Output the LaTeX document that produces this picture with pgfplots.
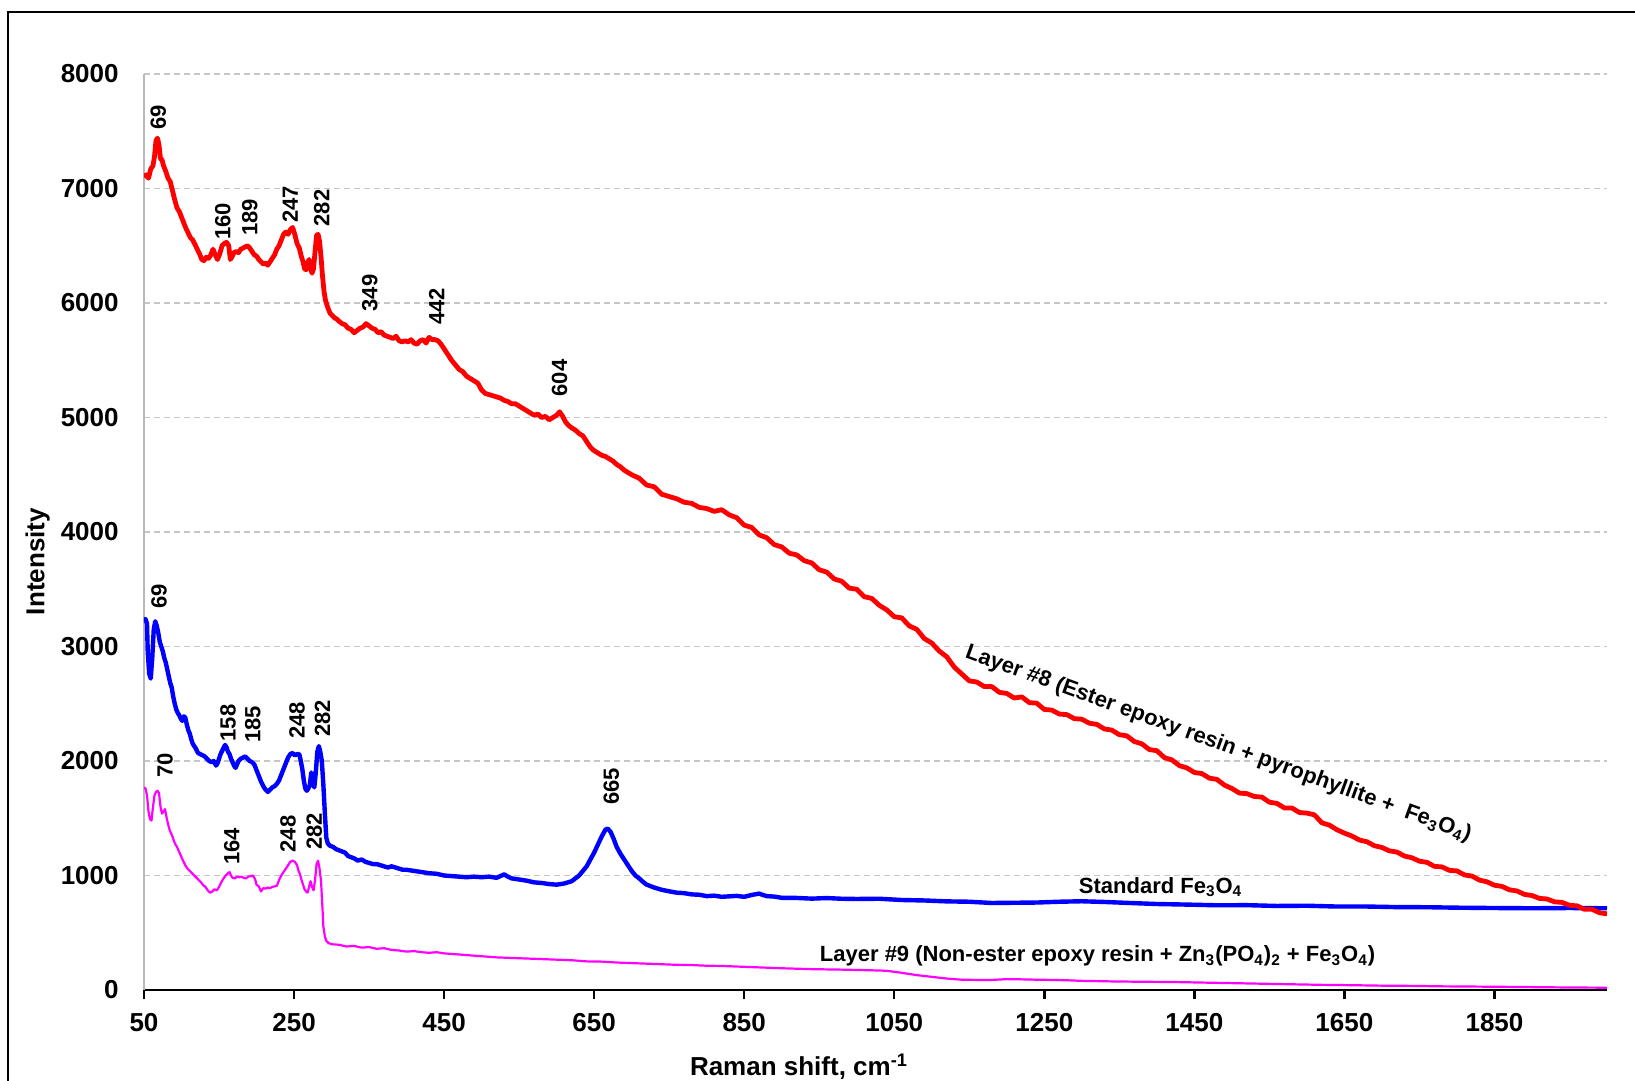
\documentclass[border=0pt]{standalone}
\usepackage{fontspec}
\setmainfont{Liberation Sans}
\usepackage{pgfplots}
\usepackage{pgfplotstable}
\pgfplotsset{compat=1.18}
\definecolor{specred}{RGB}{255,0,0}
\definecolor{specblue}{RGB}{0,0,255}
\definecolor{specmag}{RGB}{255,0,255}

% Layer #8 (red)
\pgfplotstableread{
x y
50 7100
53 7120
56 7090
59 7170
62 7200
64 7280
66 7420
68 7440
70 7380
72 7260
74 7250
76 7200
79 7150
82 7090
85 7060
88 6980
91 6900
94 6830
97 6800
100 6750
103 6700
106 6650
109 6610
112 6570
115 6550
118 6510
121 6470
124 6430
127 6380
130 6370
133 6400
136 6390
139 6420
142 6470
145 6420
148 6380
151 6430
154 6500
157 6520
160 6530
163 6500
165 6380
167 6400
170 6440
173 6450
176 6440
179 6470
182 6480
185 6490
188 6500
191 6480
194 6450
197 6420
200 6410
203 6380
206 6360
209 6340
212 6350
215 6330
218 6360
221 6390
224 6420
227 6470
230 6500
233 6550
236 6600
239 6620
242 6600
245 6640
248 6660
251 6600
254 6520
257 6480
260 6400
262 6360
264 6300
266 6290
268 6350
270 6380
272 6300
274 6260
276 6300
278 6450
280 6590
282 6600
284 6540
286 6400
288 6230
290 6100
292 6020
295 5960
298 5910
301 5890
304 5870
307 5860
310 5840
314 5820
318 5810
322 5780
326 5770
330 5740
334 5760
338 5780
342 5790
346 5820
350 5800
354 5780
358 5770
362 5740
366 5750
370 5720
374 5710
378 5700
382 5690
386 5710
390 5670
394 5660
398 5670
402 5660
406 5680
410 5650
414 5640
418 5670
422 5680
426 5650
430 5700
434 5680
438 5680
442 5670
446 5640
450 5600
455 5550
460 5500
465 5460
470 5420
475 5400
480 5360
485 5340
490 5320
495 5300
500 5240
505 5210
510 5200
515 5190
520 5180
525 5170
530 5150
535 5140
540 5120
545 5120
550 5100
555 5080
560 5060
565 5040
570 5020
575 5030
580 5000
585 5010
590 4980
595 5000
600 5020
604 5050
608 5010
612 4960
616 4930
620 4910
625 4890
630 4860
635 4840
640 4790
645 4740
650 4710
655 4690
660 4670
665 4660
670 4640
675 4620
680 4590
685 4570
690 4540
695 4520
700 4500
710 4470
720 4410
730 4395
740 4330
750 4310
760 4290
770 4260
780 4250
790 4215
800 4205
810 4180
820 4195
830 4150
840 4125
850 4060
860 4040
870 3975
880 3950
890 3890
900 3870
910 3815
920 3800
930 3750
940 3730
950 3670
960 3650
970 3590
980 3570
990 3510
1000 3500
1010 3435
1020 3420
1030 3360
1040 3320
1050 3260
1060 3250
1070 3180
1080 3150
1090 3070
1100 3030
1110 2960
1120 2910
1130 2820
1140 2760
1150 2700
1160 2690
1170 2650
1180 2650
1190 2600
1200 2590
1210 2550
1220 2560
1230 2510
1240 2505
1250 2450
1260 2445
1270 2410
1280 2405
1290 2370
1300 2365
1310 2330
1320 2320
1330 2280
1340 2270
1350 2230
1360 2220
1370 2170
1380 2150
1390 2100
1400 2090
1410 2030
1420 2010
1430 1960
1440 1940
1450 1900
1460 1890
1470 1850
1480 1840
1490 1790
1500 1760
1510 1720
1520 1715
1530 1690
1540 1685
1550 1640
1560 1630
1570 1590
1580 1590
1590 1550
1600 1545
1610 1530
1620 1460
1630 1440
1640 1400
1650 1370
1660 1345
1670 1310
1680 1295
1690 1260
1700 1245
1710 1215
1720 1205
1730 1170
1740 1155
1750 1125
1760 1115
1770 1080
1780 1075
1790 1045
1800 1040
1810 1005
1820 995
1830 960
1840 945
1850 915
1860 905
1870 875
1880 865
1890 835
1900 825
1910 800
1920 795
1930 770
1940 765
1950 740
1960 735
1970 705
1980 705
1990 675
2000 665
}\layereight

% Standard Fe3O4 (blue)
\pgfplotstableread{
x y
50 3230
52 3240
54 3200
55 2950
57 2760
59 2720
61 2900
63 3150
65 3220
67 3180
69 3120
71 3040
73 3000
75 2960
77 2900
79 2860
81 2800
83 2740
85 2680
87 2640
89 2560
91 2500
93 2450
95 2420
97 2400
99 2370
101 2350
103 2390
105 2380
107 2320
109 2270
111 2240
113 2190
115 2150
117 2130
119 2110
122 2070
125 2060
128 2050
131 2040
134 2020
137 2000
140 1990
143 2000
146 1960
148 1980
150 2020
152 2060
155 2100
158 2140
160 2120
162 2080
164 2060
166 2020
168 1990
170 1960
172 1940
174 1970
176 2000
179 2020
182 2030
185 2040
188 2020
191 2000
194 1990
197 1970
200 1920
203 1870
206 1820
209 1780
212 1750
215 1730
218 1750
221 1770
224 1780
227 1800
230 1830
233 1880
236 1930
239 1980
242 2030
245 2060
248 2070
251 2050
254 2060
257 2060
259 2000
261 1930
263 1830
265 1760
267 1740
269 1760
271 1790
273 1900
275 1800
277 1770
279 1900
281 2080
283 2130
285 2080
287 2000
289 1800
291 1550
293 1330
295 1280
298 1260
302 1250
306 1230
310 1220
314 1210
318 1200
322 1170
326 1160
330 1150
335 1130
340 1140
345 1120
350 1110
355 1100
360 1100
365 1090
370 1080
375 1070
380 1080
385 1070
390 1060
395 1050
400 1050
410 1040
420 1030
430 1020
440 1015
450 1000
460 995
470 990
480 985
490 990
500 985
510 990
520 980
525 995
530 1010
535 990
540 975
550 965
560 955
570 940
580 935
590 925
600 920
610 930
620 950
625 975
630 1000
635 1040
640 1080
645 1140
650 1200
655 1270
660 1340
665 1400
668 1410
672 1380
676 1320
680 1250
685 1190
690 1140
695 1090
700 1040
705 1000
710 975
715 945
720 920
730 895
740 875
750 862
760 850
770 846
780 835
790 832
800 820
810 824
820 814
830 818
840 822
850 814
860 830
870 842
875 830
880 820
890 816
900 805
920 804
940 798
960 803
980 797
1000 795
1030 797
1060 786
1090 782
1120 774
1150 771
1180 760
1210 762
1240 764
1270 771
1300 775
1330 769
1360 761
1400 751
1440 746
1480 740
1520 741
1560 734
1600 736
1640 729
1680 729
1720 724
1760 723
1800 719
1850 716
1900 714
1950 716
2000 714
}\standard

% Layer #9 (magenta)
\pgfplotstableread{
x y
50 1770
52 1760
54 1700
56 1560
58 1490
60 1480
62 1600
64 1700
66 1730
68 1740
70 1720
72 1600
74 1540
76 1560
78 1580
80 1510
82 1450
84 1400
86 1370
88 1340
90 1300
92 1270
94 1250
96 1220
98 1190
100 1160
102 1130
105 1090
108 1060
111 1040
114 1020
117 1000
120 980
123 960
126 940
129 915
132 900
135 870
138 850
141 860
144 880
147 870
150 900
153 940
156 975
159 1000
162 1020
164 1030
166 1000
168 980
171 975
174 990
177 985
180 990
183 980
186 975
189 990
192 995
195 1000
198 970
200 920
203 905
206 860
209 890
212 885
215 895
218 890
221 900
224 905
227 910
230 960
233 1000
236 1030
239 1060
242 1090
245 1120
248 1130
251 1120
254 1090
256 1040
258 1010
260 960
262 920
264 880
266 860
268 850
270 900
272 950
274 900
276 870
278 960
280 1100
282 1130
284 1060
286 950
287 820
288 700
289 560
291 470
293 430
296 410
300 400
310 395
320 380
330 385
340 370
350 375
360 360
370 365
380 350
390 345
400 335
410 340
420 330
430 325
440 330
450 320
460 315
470 310
480 305
490 300
500 295
520 285
540 280
560 275
580 270
600 265
620 260
640 250
660 248
680 240
700 235
720 230
740 225
760 220
780 218
800 212
820 210
840 205
860 200
880 195
900 190
920 186
940 182
960 180
980 178
1000 175
1020 172
1040 168
1060 150
1080 130
1100 115
1120 100
1140 90
1160 88
1180 88
1200 95
1220 93
1240 90
1260 88
1280 85
1300 80
1340 75
1380 72
1420 70
1460 65
1500 60
1540 55
1580 50
1620 45
1660 42
1700 38
1740 36
1780 32
1820 30
1860 28
1900 25
1950 22
2000 20
}\layernine

\begin{document}
\begin{tikzpicture}[
  peak/.style={rotate=90, anchor=west, inner sep=0pt, font=\fontsize{11}{13}\selectfont\bfseries},
  series/.style={inner sep=0pt, font=\fontsize{11}{13}\selectfont\bfseries}]
\path[use as bounding box] (0,0) rectangle (817.5pt,-540.5pt);
\draw[line width=1.4pt] (4pt,-545pt) -- (4pt,-6pt) -- (822pt,-6pt);
\begin{axis}[
  at={(72pt,-495pt)}, anchor=south west,
  scale only axis, width=731.5pt, height=458pt,
  xmin=50, xmax=2000, ymin=0, ymax=8000,
  axis x line*=bottom, axis y line*=left,
  x axis line style={black, line width=1.2pt},
  y axis line style={gray!55, line width=0.6pt},
  xtick={50,250,...,1850},
  xticklabels={50,250,450,650,850,1050,1250,1450,1650,1850},
  ytick={0,1000,...,8000},
  yticklabels={0,1000,2000,3000,4000,5000,6000,7000,8000},
  tick align=outside, major tick length=4.5pt,
  x tick style={black, line width=1.2pt},
  y tick style={draw=none},
  ticklabel style={font=\fontsize{13}{15}\selectfont\bfseries, inner sep=0pt},
  xticklabel style={anchor=north, yshift=-7pt},
  yticklabel style={anchor=east, xshift=-8pt},
  ymajorgrids,
  major grid style={gray!45, line width=0.6pt, dash pattern=on 3pt off 2pt},
  every axis plot/.append style={line join=round},
]
\addplot[specmag, line width=1.1pt] table {\layernine};
\addplot[specblue, line width=2.2pt] table {\standard};
\addplot[specred, line width=2.4pt] table {\layereight};

\node[peak] at (axis cs:69,7511) {69};
\node[peak] at (axis cs:155,6550) {160};
\node[peak] at (axis cs:191,6585) {189};
\node[peak] at (axis cs:245,6699) {247};
\node[peak] at (axis cs:287,6667) {282};
\node[peak] at (axis cs:351,5924) {349};
\node[peak] at (axis cs:440,5808) {442};
\node[peak] at (axis cs:604,5182) {604};

\node[peak] at (axis cs:70,3325) {69};
\node[peak] at (axis cs:162,2169) {158};
\node[peak] at (axis cs:195,2154) {185};
\node[peak] at (axis cs:254,2189) {248};
\node[peak] at (axis cs:288,2207) {282};
\node[peak] at (axis cs:673,1616) {665};

\node[peak] at (axis cs:78,1849) {70};
\node[peak] at (axis cs:167,1092) {164};
\node[peak] at (axis cs:242,1199) {248};
\node[peak] at (axis cs:277,1223) {282};

\node[series, rotate=-20] at (axis cs:1482,2150)
  {Layer \#8 (Ester epoxy resin + pyrophyllite +\ \ Fe\textsubscript{3}O\textsubscript{4})};
\node[series, anchor=base] at (axis cs:1405,845) {Standard Fe\textsubscript{3}O\textsubscript{4}};
\node[series, anchor=base] at (axis cs:1321,247)
  {Layer \#9 (Non-ester epoxy resin + Zn\textsubscript{3}(PO\textsubscript{4})\textsubscript{2} + Fe\textsubscript{3}O\textsubscript{4})};
\end{axis}
\node[font=\fontsize{13}{15}\selectfont\bfseries, anchor=base] at (399.5pt,-537.5pt) {Raman shift, cm\textsuperscript{-1}};
\node[font=\fontsize{13}{15}\selectfont\bfseries, rotate=90] at (18.8pt,-280.8pt) {Intensity};
\end{tikzpicture}
\end{document}
